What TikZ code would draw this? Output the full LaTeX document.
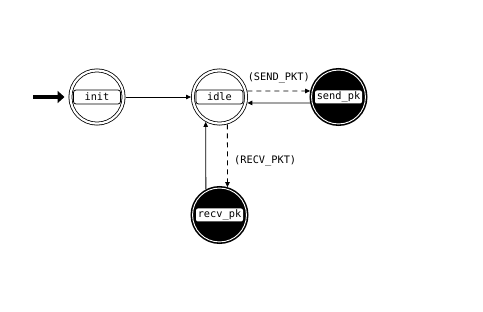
\documentclass[tikz,border=0pt]{standalone}
\usepackage{fontspec}
\setmonofont{DejaVu Sans Mono}
\usetikzlibrary{arrows.meta}
\begin{document}
\begin{tikzpicture}[x=1pt,y=-1pt,
  wstate/.style={circle, draw=black, line width=0.8pt, double=white, double distance=2.2pt,
    minimum size=53.2pt, inner sep=0pt, outer sep=1.9pt},
  bstate/.style={circle, draw=black, fill=black, line width=1.6pt, double=white, double distance=0.9pt,
    minimum size=53.9pt, inner sep=0pt, outer sep=2.05pt},
  wbox/.style={draw=black, fill=white, line width=0.8pt, rounded corners=2.5pt,
    minimum width=47pt, minimum height=14pt, inner sep=0pt, font=\ttfamily\fontsize{10.3}{12}\selectfont},
  bbox/.style={fill=white, rounded corners=2pt,
    minimum width=47pt, minimum height=13pt, inner sep=0pt, font=\ttfamily\fontsize{10.3}{12}\selectfont},
  elabel/.style={font=\ttfamily\fontsize{10.3}{12}\selectfont},
  tr/.style={line width=0.8pt, -{Triangle[length=5pt,width=4.5pt]}},
  dsh/.style={dash pattern=on 5pt off 4pt}
]
\useasboundingbox (0,0) rectangle (483,312);
\fill[white] (0,0) rectangle (483,312);

\node[wstate] (init) at (97,97) {};
\node[wstate] (idle) at (219.5,97) {};
\node[bstate] (send) at (338.5,97) {};
\node[bstate] (recv) at (219.5,215) {};

\node[wbox] (initL) at (init) {init};
\node[wbox] (idleL) at (idle) {idle};
\node[bbox] (sendL) at (send) {send\_pk};
\node[bbox] (recvL) at (recv) {recv\_pk};

\coordinate (start) at (33,97);
\draw[line width=4pt, -{Triangle[length=7pt,width=12pt]}, shorten >=4pt] (start) -- (init.west);

\draw[tr] (init.east) -- (idle.west);
\draw[tr, dsh] (idle.12) -- node[elabel, midway, yshift=13pt] {(SEND\_PKT)} (send.168);
\draw[tr] (send.192) -- (idle.-12);
\draw[tr, dsh] (idle.-74) -- node[elabel, midway, right=3pt, yshift=-5pt] {(RECV\_PKT)} (recv.74);
\draw[tr] (recv.118.2) -- (idle.241.8);
\end{tikzpicture}
\end{document}
